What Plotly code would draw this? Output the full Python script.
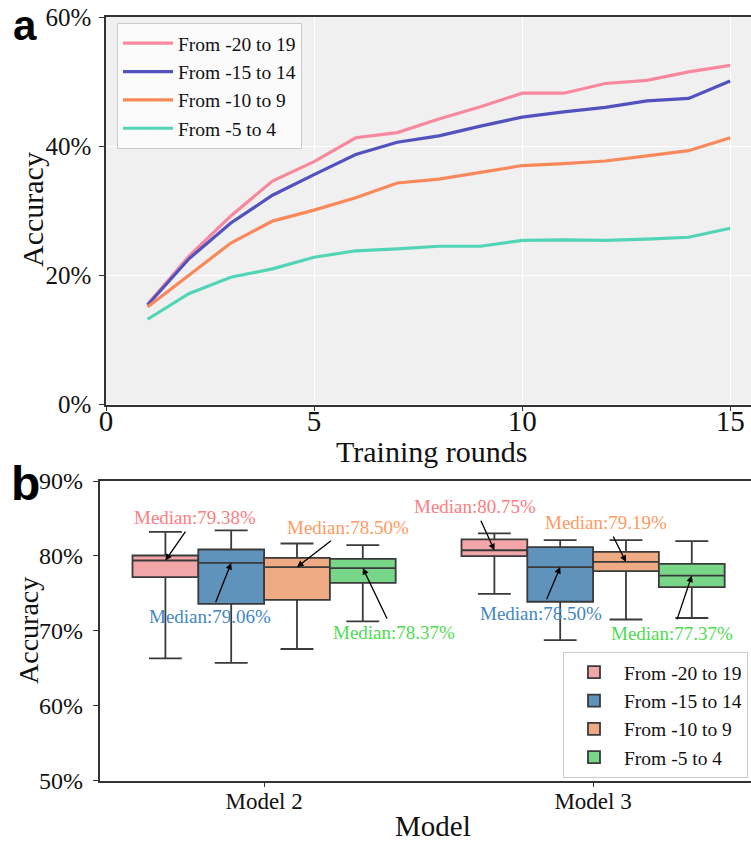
import plotly.graph_objects as go

# ---- data -------------------------------------------------------------
series_names = ["From -20 to 19", "From -15 to 14", "From -10 to 9", "From -5 to 4"]

rounds = list(range(1, 16))
acc_20 = [15.5, 23.0, 29.2, 34.6, 37.6, 41.3, 42.1, 44.2, 46.1, 48.2, 48.2, 49.7, 50.2, 51.5, 52.5]
acc_15 = [15.4, 22.6, 28.1, 32.4, 35.6, 38.7, 40.6, 41.6, 43.1, 44.5, 45.3, 46.0, 47.0, 47.4, 50.1]
acc_10 = [15.1, 20.0, 25.0, 28.4, 30.1, 32.0, 34.3, 34.9, 35.9, 37.0, 37.3, 37.7, 38.5, 39.3, 41.3]
acc_5 = [13.2, 17.2, 19.7, 21.0, 22.8, 23.8, 24.1, 24.5, 24.5, 25.4, 25.5, 25.4, 25.6, 25.9, 27.3]

models = ["Model 2", "Model 3"]
upper = [[83.2, 83.0], [83.4, 82.1], [81.65, 82.1], [81.43, 81.96]]
q3 = [[80.05, 82.2], [80.85, 81.16], [79.73, 80.53], [79.6, 78.93]]
median = [[79.38, 80.75], [79.06, 78.50], [78.50, 79.19], [78.37, 77.37]]
q1 = [[77.16, 79.96], [73.6, 73.87], [74.13, 77.96], [76.4, 75.83]]
lower = [[66.3, 74.93], [65.7, 68.76], [67.56, 71.5], [71.25, 71.7]]

top_ticks = [0, 20, 40, 60]
bottom_ticks = [50, 60, 70, 80, 90]
round_ticks = [0, 5, 10, 15]

# ---- styling ----------------------------------------------------------
W, H = 751, 841
SERIF = "Liberation Serif, Times New Roman, serif"
SANS = "Liberation Sans, Arial, sans-serif"
AX = "#333333"
line_colors = ["#F7889E", "#5252BE", "#F9885A", "#52D4B6"]
box_fills = ["#F2A6A9", "#5F93BB", "#EEAA83", "#77D687"]
label_colors = ["#FF7C80", "#3F86C4", "#FF9A60", "#4EDB4E"]
# pixel offsets of each median label from its arrow tip, per model
label_offsets = [
    [(29.5, -42.6), (-19.8, -43.3)],
    [(-21.0, 53.3), (-19.4, 46.0)],
    [(51.0, -39.7), (-19.6, -39.3)],
    [(30.8, 64.3), (-19.4, 57.7)],
]
group_shift = [-0.3, -0.1, 0.1, 0.3]


def px_x(p):
    return p / W


def px_y(p):
    return 1 - p / H


fig = go.Figure()

# ---- panel a: accuracy over training rounds ---------------------------
for name, vals, col in zip(series_names, [acc_20, acc_15, acc_10, acc_5], line_colors):
    fig.add_trace(go.Scatter(
        x=rounds, y=vals, mode="lines", name=name,
        line=dict(color=col, width=3.2),
        xaxis="x", yaxis="y", legend="legend",
    ))

# ---- panel b: box plots per model -------------------------------------
model_pos = list(range(len(models)))
for i, name in enumerate(series_names):
    fig.add_trace(go.Box(
        x=model_pos, q1=q1[i], median=median[i], q3=q3[i],
        lowerfence=lower[i], upperfence=upper[i],
        name=name, fillcolor=box_fills[i],
        line=dict(color="#3a3a3a", width=1.8),
        whiskerwidth=0.5, boxpoints=False,
        xaxis="x2", yaxis="y2", legend="legend2",
    ))

annotations = []
for i in range(len(series_names)):
    for j in range(len(models)):
        ax_off, ay_off = label_offsets[i][j]
        annotations.append(dict(
            x=model_pos[j] + group_shift[i], y=median[i][j],
            xref="x2", yref="y2",
            text=f"Median:{median[i][j]:.2f}%",
            showarrow=True, ax=ax_off, ay=ay_off,
            arrowhead=2, arrowsize=1, arrowwidth=1.3, arrowcolor="black",
            standoff=0, startstandoff=2,
            font=dict(family=SERIF, size=19, color=label_colors[i]),
        ))


def paper_text(text, x, y, size, family=SERIF, angle=0, color="#111111", yanchor="middle"):
    return dict(text=text, x=px_x(x), y=px_y(y), xref="paper", yref="paper",
                xanchor="center", yanchor=yanchor, showarrow=False, textangle=angle,
                font=dict(family=family, size=size, color=color))


# panel letters and axis titles
annotations += [
    paper_text("<b>a</b>", 25, 0, 42, family=SANS, color="black", yanchor="top"),
    paper_text("<b>b</b>", 26, 483, 48, family=SANS, color="black"),
    paper_text("Training rounds", 431, 451, 30),
    paper_text("Accuracy", 32, 210, 30, angle=-90),
    paper_text("Model", 433, 826, 29),
    paper_text("Accuracy", 28, 631, 28, angle=-90),
]

axis_common = dict(showline=True, linecolor=AX, linewidth=1.5, ticks="outside",
                   ticklen=5, tickwidth=1.3, tickcolor=AX, zeroline=False,
                   automargin=False, tickmode="array")

fig.update_layout(
    width=W, height=H,
    margin=dict(l=0, r=0, t=0, b=0, autoexpand=False),
    paper_bgcolor="white",
    plot_bgcolor="white",
    font=dict(family=SERIF, color="#111111"),
    boxmode="group", boxgap=0.2, boxgroupgap=0,
    showlegend=True,
    shapes=[dict(type="rect", xref="x", yref="y", x0=0, x1=15.5, y0=0, y1=60,
                 fillcolor="#f0f0f0", line=dict(width=0), layer="below")],
    xaxis=dict(
        domain=[px_x(106), 1], anchor="y", range=[0, 15.5],
        tickvals=round_ticks, ticktext=[str(v) for v in round_ticks],
        showgrid=True, gridcolor="white", gridwidth=1.3,
        mirror=True, tickfont=dict(size=29), ticklabelstandoff=-15,
        **axis_common,
    ),
    yaxis=dict(
        domain=[px_y(404.5), px_y(17)], anchor="x", range=[0, 60],
        tickvals=top_ticks, ticktext=[f"{v}%" for v in top_ticks],
        showgrid=True, gridcolor="white", gridwidth=1.3, tickfont=dict(size=25),
        ticklabelstandoff=3,
        **axis_common,
    ),
    xaxis2=dict(
        domain=[px_x(99.6), 1], anchor="y2", range=[-0.5, 1.48],
        tickvals=model_pos, ticktext=models, showgrid=False, mirror=True,
        tickfont=dict(size=23), ticklabelstandoff=-6,
        **axis_common,
    ),
    yaxis2=dict(
        domain=[px_y(780.5), px_y(481)], anchor="x2", range=[50, 90],
        tickvals=bottom_ticks, ticktext=[f"{v}%" for v in bottom_ticks],
        showgrid=False, tickfont=dict(size=24), ticklabelstandoff=5,
        **axis_common,
    ),
    legend=dict(
        x=px_x(117), y=px_y(23), xanchor="left", yanchor="top",
        bgcolor="rgba(252,252,252,0.9)", bordercolor="#cccccc", borderwidth=1,
        font=dict(size=19.5, family=SERIF), tracegroupgap=0, itemwidth=50,
    ),
    legend2=dict(
        x=px_x(563), y=px_y(652), xanchor="left", yanchor="top",
        bgcolor="white", bordercolor="#cccccc", borderwidth=1,
        font=dict(size=19.5, family=SERIF), tracegroupgap=0, itemwidth=50,
    ),
    annotations=annotations,
)

fig.write_html("out.html")
